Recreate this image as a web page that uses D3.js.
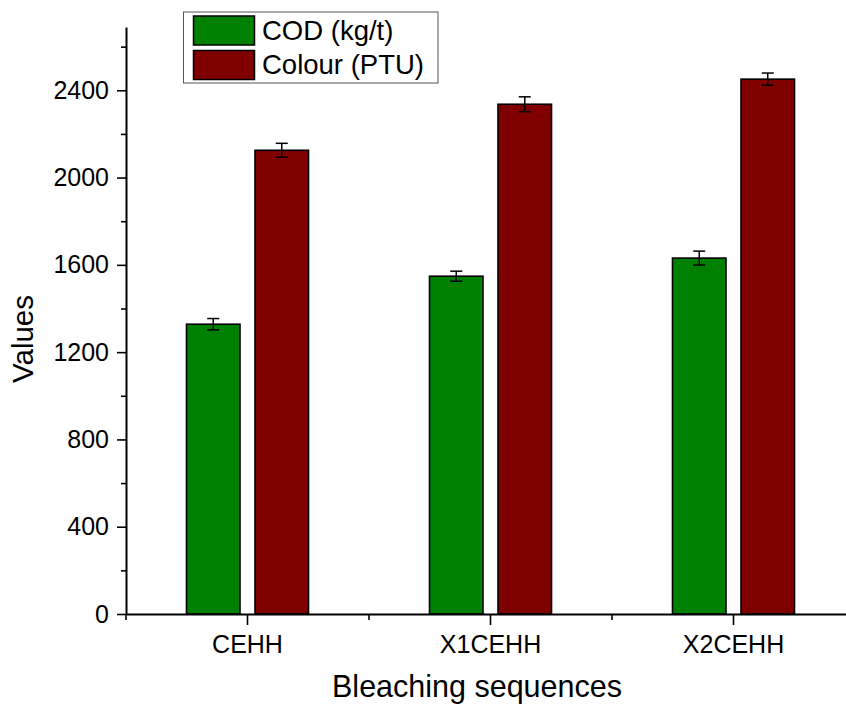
<!DOCTYPE html>
<html>
<head>
<meta charset="utf-8">
<script src="https://cdn.jsdelivr.net/npm/d3@7/dist/d3.min.js"></script>
<style>
  html, body { margin: 0; padding: 0; background: #fff; }
  svg { display: block; font-family: "Liberation Sans", Arial, sans-serif; }
</style>
</head>
<body>
<svg id="chart" width="846" height="706"></svg>
<script>
// Bleaching sequences and measured values
const categories = ["CEHH", "X1CEHH", "X2CEHH"];
const seriesNames = ["COD (kg/t)", "Colour (PTU)"];
const codValues = [1328, 1548, 1631];
const codErrors = [26, 23, 32];
const colourValues = [2125, 2336, 2451];
const colourErrors = [32, 34, 28];
const yTicks = [0, 400, 800, 1200, 1600, 2000, 2400];
const yMinorTicks = [200, 600, 1000, 1400, 1800, 2200, 2600];
const seriesColors = ["#008000", "#800000"];

const series = [
  { name: seriesNames[0], values: codValues, errors: codErrors, color: seriesColors[0] },
  { name: seriesNames[1], values: colourValues, errors: colourErrors, color: seriesColors[1] }
];

const svg = d3.select("#chart");
const plotLeft = 126, plotBottom = 614, plotTop = 27, plotRight = 855;

const y = d3.scaleLinear().domain([0, 2690]).range([plotBottom, plotTop]);
const x0 = d3.scaleBand().domain(categories).range([plotLeft, plotRight]);
const x1 = d3.scaleBand().domain(seriesNames).range([0, x0.bandwidth()])
  .paddingInner(0.219).paddingOuter(0.883);

// Bars
const groups = svg.append("g").selectAll("g")
  .data(categories)
  .join("g")
  .attr("transform", d => `translate(${x0(d)},0)`);

series.forEach(s => {
  groups.append("rect")
    .attr("x", x1(s.name))
    .attr("y", (d, i) => y(s.values[i]))
    .attr("width", x1.bandwidth())
    .attr("height", (d, i) => y(0) - y(s.values[i]))
    .attr("fill", s.color)
    .attr("stroke", "#000")
    .attr("stroke-width", 1.6);
});

// Error bars
series.forEach(s => {
  const cx = x1(s.name) + x1.bandwidth() / 2;
  const eb = groups.append("g").attr("stroke", "#000").attr("stroke-width", 1.5);
  eb.append("line")
    .attr("x1", cx).attr("x2", cx)
    .attr("y1", (d, i) => y(s.values[i] + s.errors[i]))
    .attr("y2", (d, i) => y(s.values[i] - s.errors[i]));
  [1, -1].forEach(sign => {
    eb.append("line")
      .attr("x1", cx - 6).attr("x2", cx + 6)
      .attr("y1", (d, i) => y(s.values[i] + sign * s.errors[i]))
      .attr("y2", (d, i) => y(s.values[i] + sign * s.errors[i]));
  });
});

// Y axis
const yAxis = svg.append("g").attr("transform", `translate(${plotLeft},0)`);
yAxis.call(d3.axisLeft(y).tickValues(yTicks).tickFormat(d3.format("d"))
  .tickSize(9).tickPadding(8).tickSizeOuter(0));
yAxis.append("g").call(d3.axisLeft(y).tickValues(yMinorTicks).tickSize(5).tickFormat("").tickSizeOuter(0))
  .select(".domain").remove();
yAxis.selectAll(".domain").attr("stroke-width", 2);
yAxis.selectAll(".tick line").attr("stroke-width", 1.6);
yAxis.selectAll(".tick text").attr("font-size", 25).attr("fill", "#000")
  .attr("font-family", "Liberation Sans, Arial, sans-serif");

// X axis
const xAxis = svg.append("g").attr("transform", `translate(0,${plotBottom})`);
xAxis.call(d3.axisBottom(x0).tickSize(11).tickPadding(10).tickSizeOuter(0));
const boundaries = categories.map(c => x0(c)).concat([x0(categories[categories.length - 1]) + x0.bandwidth()]);
xAxis.selectAll(".minor").data(boundaries).join("line")
  .attr("class", "minor")
  .attr("x1", d => d).attr("x2", d => d)
  .attr("y1", 0).attr("y2", 6)
  .attr("stroke", "#000").attr("stroke-width", 1.6);
xAxis.selectAll(".domain").attr("stroke-width", 2);
xAxis.selectAll(".tick line").attr("stroke-width", 1.6);
xAxis.selectAll(".tick text").attr("font-size", 25).attr("fill", "#000")
  .attr("font-family", "Liberation Sans, Arial, sans-serif");

// Axis titles
svg.append("text")
  .attr("x", 477).attr("y", 697)
  .attr("text-anchor", "middle")
  .attr("font-size", 30.5)
  .text("Bleaching sequences");

svg.append("text")
  .attr("transform", `translate(33,339) rotate(-90)`)
  .attr("text-anchor", "middle")
  .attr("font-size", 29.5)
  .text("Values");

// Legend
const legend = svg.append("g");
legend.append("rect")
  .attr("x", 183.5).attr("y", 12).attr("width", 254.5).attr("height", 71)
  .attr("fill", "#fff").attr("stroke", "#555").attr("stroke-width", 1);
series.forEach((s, i) => {
  const row = legend.append("g").attr("transform", `translate(0,${i * 34.5})`);
  row.append("rect")
    .attr("x", 193.5).attr("y", 16).attr("width", 61).attr("height", 29)
    .attr("fill", s.color).attr("stroke", "#000").attr("stroke-width", 1.5);
  row.append("text")
    .attr("x", 262).attr("y", 39.5)
    .attr("font-size", 27.5)
    .text(s.name);
});
</script>
</body>
</html>
